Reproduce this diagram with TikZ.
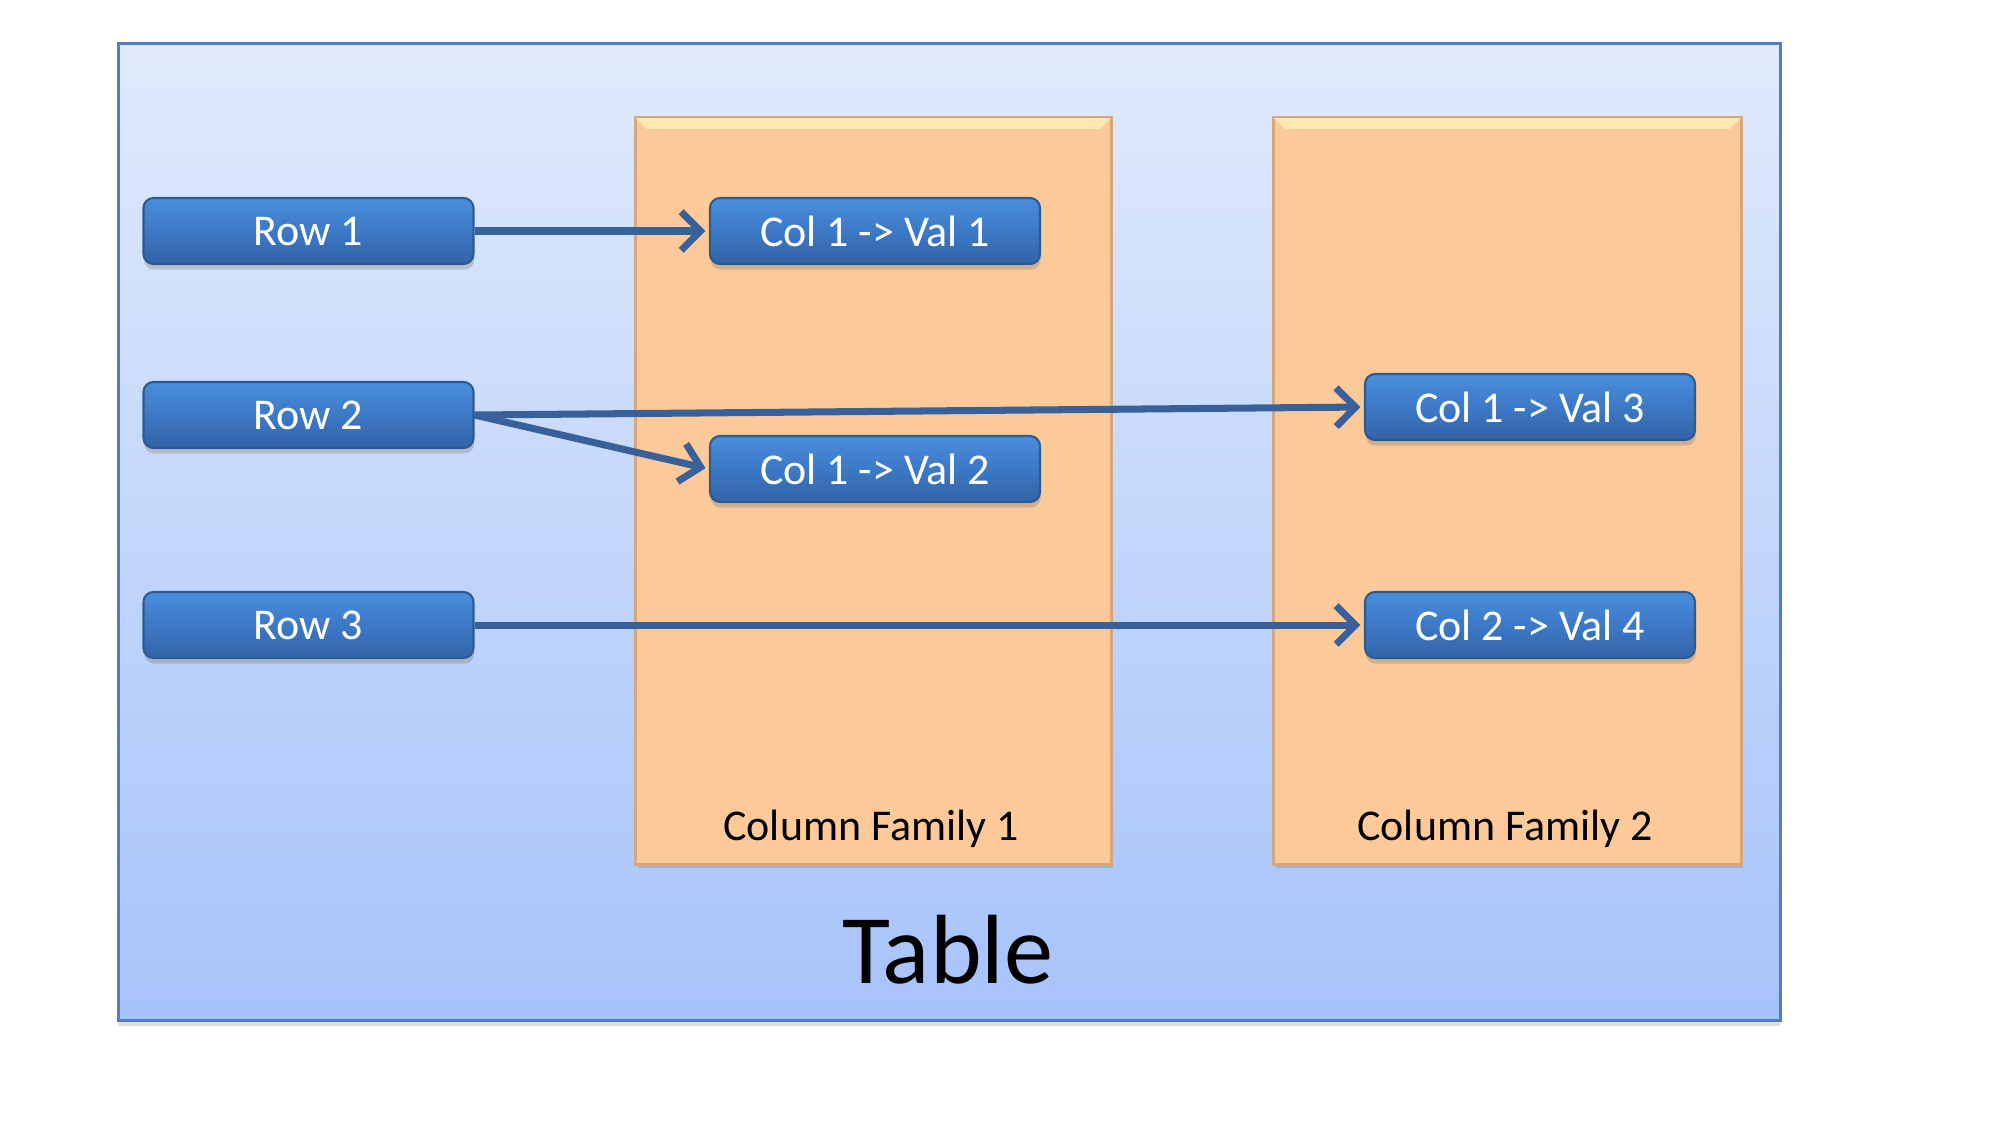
\documentclass[tikz,border=0pt]{standalone}
\usepackage{fontspec}
\setmainfont{Carlito}
\usetikzlibrary{arrows.meta,shadows,positioning}
\definecolor{tblTop}{HTML}{E1EAFC}
\definecolor{tblBot}{HTML}{A6C3FA}
\definecolor{tblLine}{HTML}{4F7FC0}
\definecolor{cfFill}{HTML}{FCCA98}
\definecolor{cfLine}{HTML}{D4A77C}
\definecolor{cfBevel}{HTML}{FFE8B4}
\definecolor{bxTop}{HTML}{4A8EDC}
\definecolor{bxMid}{HTML}{3C79C6}
\definecolor{bxBot}{HTML}{3463A6}
\definecolor{bxLine}{HTML}{2E5A92}
\definecolor{arr}{HTML}{38609A}
\tikzset{
  bluebox/.style={rectangle, rounded corners=0.1cm, minimum width=3.30cm, minimum height=0.66cm,
    top color=bxTop, bottom color=bxBot, middle color=bxMid, draw=bxLine, line width=0.6pt,
    text=white, font=\fontsize{12.5}{15}\selectfont, inner sep=0pt,
    drop shadow={shadow xshift=0.2pt, shadow yshift=-1.6pt, opacity=0.35}},
  cfbox/.style={rectangle, fill=cfFill, draw=cfLine, line width=0.5pt, inner sep=0pt,
    drop shadow={shadow xshift=0.6pt, shadow yshift=-1.2pt, opacity=0.3}},
  cflabel/.style={font=\fontsize{12.5}{15}\selectfont, text=black},
  link/.style={draw=arr, line width=2pt, -{Straight Barb[length=5.5pt,width=11pt,line width=2pt]}, shorten >=1pt}
}
\begin{document}
\begin{tikzpicture}
\useasboundingbox (0,0) rectangle (20,-11.25);
% table
\node[rectangle, minimum width=16.62cm, minimum height=9.77cm, anchor=north west,
  top color=tblTop, bottom color=tblBot, draw=tblLine, line width=0.8pt, inner sep=0pt,
  drop shadow={shadow xshift=0pt, shadow yshift=-1.5pt, opacity=0.25}] (table) at (1.17,-0.42) {};
% column families
\node[cfbox, anchor=north west, minimum width=4.75cm, minimum height=7.46cm] (cf1) at (6.35,-1.17) {};
\node[cfbox, anchor=north west, minimum width=4.67cm, minimum height=7.46cm] (cf2) at (12.73,-1.17) {};
\fill[cfBevel] (cf1.north west) -- (cf1.north east) -- ([xshift=-0.12cm,yshift=-0.12cm]cf1.north east) -- ([xshift=0.12cm,yshift=-0.12cm]cf1.north west) -- cycle;
\fill[cfBevel] (cf2.north west) -- (cf2.north east) -- ([xshift=-0.12cm,yshift=-0.12cm]cf2.north east) -- ([xshift=0.12cm,yshift=-0.12cm]cf2.north west) -- cycle;
\draw[cfLine, line width=0.5pt] (cf1.north west) rectangle (cf1.south east);
\draw[cfLine, line width=0.5pt] (cf2.north west) rectangle (cf2.south east);
\node[cflabel] (cf1lab) at (8.71,-8.29) {Column Family 1};
\node[cflabel] (cf2lab) at (15.05,-8.29) {Column Family 2};
\node[font=\fontsize{28}{34}\selectfont] (tlab) at (9.48,-9.50) {Table};
% rows
\node[bluebox] (r1) at (3.085,-2.31) {Row 1};
\node[bluebox] (r2) at (3.085,-4.15) {Row 2};
\node[bluebox] (r3) at (3.085,-6.25) {Row 3};
% cells
\node[bluebox] (v1) at (8.75,-2.31) {Col 1 -> Val 1};
\node[bluebox] (v2) at (8.75,-4.69) {Col 1 -> Val 2};
\node[bluebox] (v3) at (15.30,-4.07) {Col 1 -> Val 3};
\node[bluebox] (v4) at (15.30,-6.25) {Col 2 -> Val 4};
% links
\draw[link] (r1.east) -- (v1.west);
\draw[link] (r2.east) -- (v3.west);
\draw[link] (r2.east) -- (v2.west);
\draw[link] (r3.east) -- (v4.west);
\end{tikzpicture}
\end{document}
